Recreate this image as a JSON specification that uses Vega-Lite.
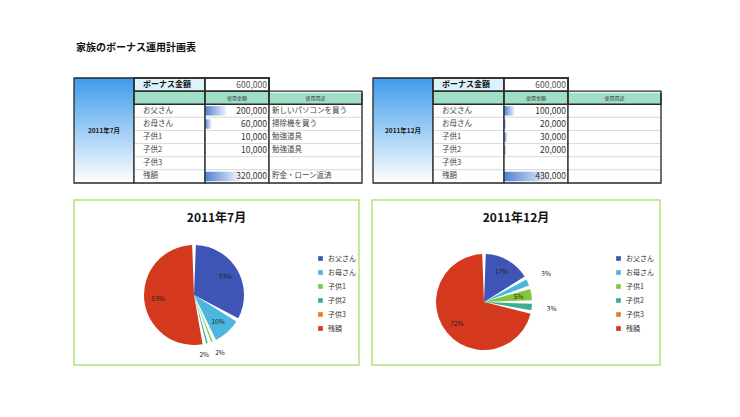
{
  "$schema": "https://vega.github.io/schema/vega-lite/v6.json",
  "padding": {"left": 73, "top": 42, "right": 5, "bottom": 5},
  "background": "white",
  "title": {"text": "家族のボーナス運用計画表", "anchor": "start", "frame": "group", "fontSize": 10, "fontWeight": "bold", "color": "#111111", "offset": 24, "dx": 2, "font": "Noto Sans CJK JP"},
  "config": {"view": {"stroke": null}, "font": "Noto Sans CJK JP", "text": {"font": "Noto Sans CJK JP"}},
  "datasets": {
    "rows": [{"row": "ボーナス金額"}, {"row": "hdr"}, {"row": "お父さん"}, {"row": "お母さん"}, {"row": "子供1"}, {"row": "子供2"}, {"row": "子供3"}, {"row": "残額"}],
    "jul": [
      {"ord": 1, "row": "お父さん", "amount": 200000, "use": "新しいパソコンを買う", "label": "33%"},
      {"ord": 2, "row": "お母さん", "amount": 60000, "use": "掃除機を買う", "label": "10%"},
      {"ord": 3, "row": "子供1", "amount": 10000, "use": "勉強道具", "label": "2%"},
      {"ord": 4, "row": "子供2", "amount": 10000, "use": "勉強道具", "label": "2%"},
      {"ord": 5, "row": "子供3", "amount": null, "use": "", "label": ""},
      {"ord": 6, "row": "残額", "amount": 320000, "use": "貯金・ローン返済", "label": "53%"}
    ],
    "dec": [
      {"ord": 1, "row": "お父さん", "amount": 100000, "use": "", "label": "17%"},
      {"ord": 2, "row": "お母さん", "amount": 20000, "use": "", "label": "3%"},
      {"ord": 3, "row": "子供1", "amount": 30000, "use": "", "label": "5%"},
      {"ord": 4, "row": "子供2", "amount": 20000, "use": "", "label": "3%"},
      {"ord": 5, "row": "子供3", "amount": null, "use": "", "label": ""},
      {"ord": 6, "row": "残額", "amount": 430000, "use": "", "label": "72%"}
    ]
  },
  "resolve": {"scale": {"color": "independent", "theta": "independent"}, "legend": {"color": "independent"}},
  "spacing": 15,
  "vconcat": [
    {
      "spacing": 8,
      "hconcat": [
        {
          "spacing": 0,
          "bounds": "flush",
          "hconcat": [
            {
              "width": 60, "height": 105,
              "data": {"values": [{"t": "2011年7月"}]},
              "layer": [
                {"mark": {"type": "rect", "stroke": "#2a2a2a", "strokeWidth": 1.3, "fill": {"gradient": "linear", "x1": 0, "y1": 0, "x2": 0, "y2": 1, "stops": [{"offset": 0, "color": "#3D9BEA"}, {"offset": 1, "color": "#FFFFFF"}]}},
                 "encoding": {"x": {"value": 0}, "x2": {"value": "width"}, "y": {"value": 0}, "y2": {"value": "height"}}},
                {"mark": {"type": "text", "fontSize": 6.5, "fontWeight": "bold", "color": "#1a1a1a", "baseline": "middle", "align": "center"},
                 "encoding": {"text": {"field": "t"}}}
              ]
            },
            {
              "width": 71, "height": 105,
              "layer": [
                {"data": {"name": "rows"}, "mark": {"type": "rect", "stroke": "#cfcfcf", "strokeWidth": 0.6},
                 "encoding": {"y": {"field": "row", "type": "nominal", "scale": {"type": "band", "domain": ["ボーナス金額", "hdr", "お父さん", "お母さん", "子供1", "子供2", "子供3", "残額"], "paddingInner": 0, "paddingOuter": 0}, "axis": null},
                   "x": {"value": 0}, "x2": {"value": "width"},
                   "fill": {"condition": [{"test": "datum.row === 'hdr'", "value": "#9FDFC6"}, {"test": "datum.row === 'ボーナス金額'", "value": "#DDF3FB"}], "value": "#FFFFFF"}}},
                {"data": {"values": [{"row": "ボーナス金額"}, {"row": "hdr"}]}, "mark": {"type": "rect", "fillOpacity": 0, "stroke": "#2a2a2a", "strokeWidth": 1.3},
                 "encoding": {"y": {"field": "row", "type": "nominal", "scale": {"type": "band"}, "axis": null}, "x": {"value": 0}, "x2": {"value": "width"}}},
                {"data": {"name": "jul"}, "mark": {"type": "text", "align": "left", "baseline": "middle", "fontSize": 7.5, "color": "#444444"},
                 "encoding": {"y": {"field": "row", "type": "nominal", "scale": {"type": "band"}, "axis": null}, "x": {"value": 9}, "text": {"field": "row"}}},
                {"data": {"values": [{"row": "ボーナス金額"}]}, "mark": {"type": "text", "align": "left", "baseline": "middle", "fontSize": 8, "fontWeight": "bold", "color": "#111111"},
                 "encoding": {"y": {"field": "row", "type": "nominal", "scale": {"type": "band"}, "axis": null}, "x": {"value": 9}, "text": {"field": "row"}}},
                {"data": {"values": [{}]}, "mark": {"type": "rect", "fillOpacity": 0, "stroke": "#2a2a2a", "strokeWidth": 1.3},
                 "encoding": {"x": {"value": 0}, "x2": {"value": "width"}, "y": {"value": 0}, "y2": {"value": "height"}}}
              ]
            },
            {
              "width": 64, "height": 105,
              "layer": [
                {"data": {"name": "rows"}, "mark": {"type": "rect", "stroke": "#cfcfcf", "strokeWidth": 0.6},
                 "encoding": {"y": {"field": "row", "type": "nominal", "scale": {"type": "band", "domain": ["ボーナス金額", "hdr", "お父さん", "お母さん", "子供1", "子供2", "子供3", "残額"], "paddingInner": 0, "paddingOuter": 0}, "axis": null},
                   "x": {"value": 0}, "x2": {"value": "width"},
                   "fill": {"condition": [{"test": "datum.row === 'hdr'", "value": "#9FDFC6"}], "value": "#FFFFFF"}}},
                {"data": {"name": "jul"}, "transform": [{"filter": "datum.amount > 0"}],
                 "mark": {"type": "bar", "height": {"band": 0.72}, "fill": {"gradient": "linear", "x1": 0, "y1": 0, "x2": 1, "y2": 0, "stops": [{"offset": 0, "color": "#4F82D1"}, {"offset": 1, "color": "#EEF3FB"}]}},
                 "encoding": {"y": {"field": "row", "type": "nominal", "scale": {"type": "band"}, "axis": null},
                   "x": {"field": "amount", "type": "quantitative", "scale": {"domain": [0, 600000], "nice": false}, "axis": null}}},
                {"data": {"values": [{"row": "ボーナス金額"}, {"row": "hdr"}]}, "mark": {"type": "rect", "fillOpacity": 0, "stroke": "#2a2a2a", "strokeWidth": 1.3},
                 "encoding": {"y": {"field": "row", "type": "nominal", "scale": {"type": "band"}, "axis": null}, "x": {"value": 0}, "x2": {"value": "width"}}},
                {"data": {"name": "jul"}, "transform": [{"filter": "isValid(datum.amount)"}],
                 "mark": {"type": "text", "align": "right", "baseline": "middle", "fontSize": 8.5, "color": "#333333", "dx": -2},
                 "encoding": {"y": {"field": "row", "type": "nominal", "scale": {"type": "band"}, "axis": null}, "x": {"datum": 600000, "type": "quantitative"}, "text": {"field": "amount", "type": "quantitative", "format": ","}}},
                {"data": {"values": [{"row": "ボーナス金額", "amount": 600000}]},
                 "mark": {"type": "text", "align": "right", "baseline": "middle", "fontSize": 8.5, "color": "#555555", "dx": -2},
                 "encoding": {"y": {"field": "row", "type": "nominal", "scale": {"type": "band"}, "axis": null}, "x": {"datum": 600000, "type": "quantitative"}, "text": {"field": "amount", "type": "quantitative", "format": ","}}},
                {"data": {"values": [{"row": "hdr", "t": "使用金額"}]},
                 "mark": {"type": "text", "align": "center", "baseline": "middle", "fontSize": 5, "color": "#333333"},
                 "encoding": {"y": {"field": "row", "type": "nominal", "scale": {"type": "band"}, "axis": null}, "x": {"datum": 300000, "type": "quantitative"}, "text": {"field": "t"}}},
                {"data": {"values": [{}]}, "mark": {"type": "rect", "fillOpacity": 0, "stroke": "#2a2a2a", "strokeWidth": 1.3},
                 "encoding": {"x": {"value": 0}, "x2": {"value": "width"}, "y": {"value": 0}, "y2": {"value": "height"}}}
              ]
            },
            {
              "width": 93, "height": 105,
              "layer": [
                {"data": {"name": "rows"}, "transform": [{"filter": "datum.row !== 'ボーナス金額'"}], "mark": {"type": "rect", "stroke": "#cfcfcf", "strokeWidth": 0.6},
                 "encoding": {"y": {"field": "row", "type": "nominal", "scale": {"type": "band", "domain": ["ボーナス金額", "hdr", "お父さん", "お母さん", "子供1", "子供2", "子供3", "残額"], "paddingInner": 0, "paddingOuter": 0}, "axis": null},
                   "x": {"value": 0}, "x2": {"value": "width"},
                   "fill": {"condition": [{"test": "datum.row === 'hdr'", "value": "#9FDFC6"}], "value": "#FFFFFF"}}},
                {"data": {"values": [{}]}, "mark": {"type": "rect", "fillOpacity": 0, "stroke": "#2a2a2a", "strokeWidth": 1.3},
                 "encoding": {"x": {"value": 0}, "x2": {"value": "width"}, "y": {"value": 0}, "y2": {"value": "height"}}},
                {"data": {"values": [{"row": "ボーナス金額"}]}, "mark": {"type": "rect", "fill": "#FFFFFF", "stroke": "#FFFFFF", "strokeWidth": 3},
                 "encoding": {"y": {"field": "row", "type": "nominal", "scale": {"type": "band"}, "axis": null}, "x": {"value": 2.5}, "x2": {"value": "width"}}},
                {"data": {"values": [{"row": "hdr"}]}, "mark": {"type": "rect", "fillOpacity": 0, "stroke": "#2a2a2a", "strokeWidth": 1.3},
                 "encoding": {"y": {"field": "row", "type": "nominal", "scale": {"type": "band"}, "axis": null}, "x": {"value": 0}, "x2": {"value": "width"}}},
                {"data": {"name": "jul"}, "mark": {"type": "text", "align": "left", "baseline": "middle", "fontSize": 7.5, "color": "#444444"},
                 "encoding": {"y": {"field": "row", "type": "nominal", "scale": {"type": "band"}, "axis": null}, "x": {"value": 3}, "text": {"field": "use"}}},
                {"data": {"values": [{"row": "hdr", "t": "使用用途"}]},
                 "mark": {"type": "text", "align": "center", "baseline": "middle", "fontSize": 5, "color": "#333333"},
                 "encoding": {"y": {"field": "row", "type": "nominal", "scale": {"type": "band"}, "axis": null}, "text": {"field": "t"}}}
              ]
            }
          ]
        },
        {
          "spacing": 0,
          "bounds": "flush",
          "hconcat": [
            {
              "width": 60, "height": 105,
              "data": {"values": [{"t": "2011年12月"}]},
              "layer": [
                {"mark": {"type": "rect", "stroke": "#2a2a2a", "strokeWidth": 1.3, "fill": {"gradient": "linear", "x1": 0, "y1": 0, "x2": 0, "y2": 1, "stops": [{"offset": 0, "color": "#3D9BEA"}, {"offset": 1, "color": "#FFFFFF"}]}},
                 "encoding": {"x": {"value": 0}, "x2": {"value": "width"}, "y": {"value": 0}, "y2": {"value": "height"}}},
                {"mark": {"type": "text", "fontSize": 6.5, "fontWeight": "bold", "color": "#1a1a1a", "baseline": "middle", "align": "center"},
                 "encoding": {"text": {"field": "t"}}}
              ]
            },
            {
              "width": 71, "height": 105,
              "layer": [
                {"data": {"name": "rows"}, "mark": {"type": "rect", "stroke": "#cfcfcf", "strokeWidth": 0.6},
                 "encoding": {"y": {"field": "row", "type": "nominal", "scale": {"type": "band", "domain": ["ボーナス金額", "hdr", "お父さん", "お母さん", "子供1", "子供2", "子供3", "残額"], "paddingInner": 0, "paddingOuter": 0}, "axis": null},
                   "x": {"value": 0}, "x2": {"value": "width"},
                   "fill": {"condition": [{"test": "datum.row === 'hdr'", "value": "#9FDFC6"}, {"test": "datum.row === 'ボーナス金額'", "value": "#DDF3FB"}], "value": "#FFFFFF"}}},
                {"data": {"values": [{"row": "ボーナス金額"}, {"row": "hdr"}]}, "mark": {"type": "rect", "fillOpacity": 0, "stroke": "#2a2a2a", "strokeWidth": 1.3},
                 "encoding": {"y": {"field": "row", "type": "nominal", "scale": {"type": "band"}, "axis": null}, "x": {"value": 0}, "x2": {"value": "width"}}},
                {"data": {"name": "dec"}, "mark": {"type": "text", "align": "left", "baseline": "middle", "fontSize": 7.5, "color": "#444444"},
                 "encoding": {"y": {"field": "row", "type": "nominal", "scale": {"type": "band"}, "axis": null}, "x": {"value": 9}, "text": {"field": "row"}}},
                {"data": {"values": [{"row": "ボーナス金額"}]}, "mark": {"type": "text", "align": "left", "baseline": "middle", "fontSize": 8, "fontWeight": "bold", "color": "#111111"},
                 "encoding": {"y": {"field": "row", "type": "nominal", "scale": {"type": "band"}, "axis": null}, "x": {"value": 9}, "text": {"field": "row"}}},
                {"data": {"values": [{}]}, "mark": {"type": "rect", "fillOpacity": 0, "stroke": "#2a2a2a", "strokeWidth": 1.3},
                 "encoding": {"x": {"value": 0}, "x2": {"value": "width"}, "y": {"value": 0}, "y2": {"value": "height"}}}
              ]
            },
            {
              "width": 64, "height": 105,
              "layer": [
                {"data": {"name": "rows"}, "mark": {"type": "rect", "stroke": "#cfcfcf", "strokeWidth": 0.6},
                 "encoding": {"y": {"field": "row", "type": "nominal", "scale": {"type": "band", "domain": ["ボーナス金額", "hdr", "お父さん", "お母さん", "子供1", "子供2", "子供3", "残額"], "paddingInner": 0, "paddingOuter": 0}, "axis": null},
                   "x": {"value": 0}, "x2": {"value": "width"},
                   "fill": {"condition": [{"test": "datum.row === 'hdr'", "value": "#9FDFC6"}], "value": "#FFFFFF"}}},
                {"data": {"name": "dec"}, "transform": [{"filter": "datum.amount > 0"}],
                 "mark": {"type": "bar", "height": {"band": 0.72}, "fill": {"gradient": "linear", "x1": 0, "y1": 0, "x2": 1, "y2": 0, "stops": [{"offset": 0, "color": "#4F82D1"}, {"offset": 1, "color": "#EEF3FB"}]}},
                 "encoding": {"y": {"field": "row", "type": "nominal", "scale": {"type": "band"}, "axis": null},
                   "x": {"field": "amount", "type": "quantitative", "scale": {"domain": [0, 600000], "nice": false}, "axis": null}}},
                {"data": {"values": [{"row": "ボーナス金額"}, {"row": "hdr"}]}, "mark": {"type": "rect", "fillOpacity": 0, "stroke": "#2a2a2a", "strokeWidth": 1.3},
                 "encoding": {"y": {"field": "row", "type": "nominal", "scale": {"type": "band"}, "axis": null}, "x": {"value": 0}, "x2": {"value": "width"}}},
                {"data": {"name": "dec"}, "transform": [{"filter": "isValid(datum.amount)"}],
                 "mark": {"type": "text", "align": "right", "baseline": "middle", "fontSize": 8.5, "color": "#333333", "dx": -2},
                 "encoding": {"y": {"field": "row", "type": "nominal", "scale": {"type": "band"}, "axis": null}, "x": {"datum": 600000, "type": "quantitative"}, "text": {"field": "amount", "type": "quantitative", "format": ","}}},
                {"data": {"values": [{"row": "ボーナス金額", "amount": 600000}]},
                 "mark": {"type": "text", "align": "right", "baseline": "middle", "fontSize": 8.5, "color": "#555555", "dx": -2},
                 "encoding": {"y": {"field": "row", "type": "nominal", "scale": {"type": "band"}, "axis": null}, "x": {"datum": 600000, "type": "quantitative"}, "text": {"field": "amount", "type": "quantitative", "format": ","}}},
                {"data": {"values": [{"row": "hdr", "t": "使用金額"}]},
                 "mark": {"type": "text", "align": "center", "baseline": "middle", "fontSize": 5, "color": "#333333"},
                 "encoding": {"y": {"field": "row", "type": "nominal", "scale": {"type": "band"}, "axis": null}, "x": {"datum": 300000, "type": "quantitative"}, "text": {"field": "t"}}},
                {"data": {"values": [{}]}, "mark": {"type": "rect", "fillOpacity": 0, "stroke": "#2a2a2a", "strokeWidth": 1.3},
                 "encoding": {"x": {"value": 0}, "x2": {"value": "width"}, "y": {"value": 0}, "y2": {"value": "height"}}}
              ]
            },
            {
              "width": 93, "height": 105,
              "layer": [
                {"data": {"name": "rows"}, "transform": [{"filter": "datum.row !== 'ボーナス金額'"}], "mark": {"type": "rect", "stroke": "#cfcfcf", "strokeWidth": 0.6},
                 "encoding": {"y": {"field": "row", "type": "nominal", "scale": {"type": "band", "domain": ["ボーナス金額", "hdr", "お父さん", "お母さん", "子供1", "子供2", "子供3", "残額"], "paddingInner": 0, "paddingOuter": 0}, "axis": null},
                   "x": {"value": 0}, "x2": {"value": "width"},
                   "fill": {"condition": [{"test": "datum.row === 'hdr'", "value": "#9FDFC6"}], "value": "#FFFFFF"}}},
                {"data": {"values": [{}]}, "mark": {"type": "rect", "fillOpacity": 0, "stroke": "#2a2a2a", "strokeWidth": 1.3},
                 "encoding": {"x": {"value": 0}, "x2": {"value": "width"}, "y": {"value": 0}, "y2": {"value": "height"}}},
                {"data": {"values": [{"row": "ボーナス金額"}]}, "mark": {"type": "rect", "fill": "#FFFFFF", "stroke": "#FFFFFF", "strokeWidth": 3},
                 "encoding": {"y": {"field": "row", "type": "nominal", "scale": {"type": "band"}, "axis": null}, "x": {"value": 2.5}, "x2": {"value": "width"}}},
                {"data": {"values": [{"row": "hdr"}]}, "mark": {"type": "rect", "fillOpacity": 0, "stroke": "#2a2a2a", "strokeWidth": 1.3},
                 "encoding": {"y": {"field": "row", "type": "nominal", "scale": {"type": "band"}, "axis": null}, "x": {"value": 0}, "x2": {"value": "width"}}},
                {"data": {"values": [{"row": "hdr", "t": "使用用途"}]},
                 "mark": {"type": "text", "align": "center", "baseline": "middle", "fontSize": 5, "color": "#333333"},
                 "encoding": {"y": {"field": "row", "type": "nominal", "scale": {"type": "band"}, "axis": null}, "text": {"field": "t"}}}
              ]
            }
          ]
        }
      ]
    },
    {
      "spacing": 11,
      "resolve": {"scale": {"color": "independent", "theta": "independent"}, "legend": {"color": "independent"}},
      "hconcat": [
        {
          "width": 285, "height": 165,
          "view": {"stroke": "#B2E37A", "strokeWidth": 1.5},
          "title": {"text": "2011年7月", "offset": -25, "fontSize": 12, "fontWeight": "bold", "color": "#111111", "anchor": "middle", "font": "Noto Sans CJK JP"},
          "data": {"name": "jul"},
          "encoding": {
            "theta": {"field": "amount", "type": "quantitative", "stack": true},
            "order": {"field": "ord", "type": "quantitative"},
            "x": {"value": 120},
            "y": {"value": 95}
          },
          "layer": [
            {"mark": {"type": "arc", "outerRadius": 50, "padAngle": 0.075},
             "encoding": {"color": {"field": "row", "type": "nominal",
               "scale": {"domain": ["お父さん", "お母さん", "子供1", "子供2", "子供3", "残額"], "range": ["#3F55B5", "#4BB6E0", "#82C83A", "#3DAE96", "#F07A24", "#D4391D"]},
               "legend": {"title": null, "orient": "none", "legendX": 243, "legendY": 55, "symbolType": "square", "symbolSize": 22, "symbolStrokeWidth": 0, "labelFontSize": 7, "labelColor": "#333333", "labelFont": "Noto Sans CJK JP", "rowPadding": 6}}}},
            {"mark": {"type": "text", "radius": 36, "fontSize": 6.5, "color": "#222222"},
             "encoding": {"text": {"condition": {"test": "datum.amount >= 25000", "field": "label"}, "value": ""}}},
            {"mark": {"type": "text", "radius": 62, "fontSize": 6.5, "color": "#222222", "align": "left", "dx": -1},
             "encoding": {"text": {"condition": {"test": "datum.amount < 25000 && datum.ord === 3", "field": "label"}, "value": ""}}},
            {"mark": {"type": "text", "radius": 62, "fontSize": 6.5, "color": "#222222", "align": "right", "dx": -1},
             "encoding": {"text": {"condition": {"test": "datum.amount < 25000 && datum.ord === 4", "field": "label"}, "value": ""}}}
          ]
        },
        {
          "width": 288, "height": 165,
          "view": {"stroke": "#B2E37A", "strokeWidth": 1.5},
          "title": {"text": "2011年12月", "offset": -25, "fontSize": 12, "fontWeight": "bold", "color": "#111111", "anchor": "middle", "font": "Noto Sans CJK JP"},
          "data": {"name": "dec"},
          "encoding": {
            "theta": {"field": "amount", "type": "quantitative", "stack": true},
            "order": {"field": "ord", "type": "quantitative"},
            "x": {"value": 112},
            "y": {"value": 102}
          },
          "layer": [
            {"mark": {"type": "arc", "outerRadius": 48, "padAngle": 0.075},
             "encoding": {"color": {"field": "row", "type": "nominal",
               "scale": {"domain": ["お父さん", "お母さん", "子供1", "子供2", "子供3", "残額"], "range": ["#3F55B5", "#4BB6E0", "#82C83A", "#3DAE96", "#F07A24", "#D4391D"]},
               "legend": {"title": null, "orient": "none", "legendX": 243, "legendY": 55, "symbolType": "square", "symbolSize": 22, "symbolStrokeWidth": 0, "labelFontSize": 7, "labelColor": "#333333", "labelFont": "Noto Sans CJK JP", "rowPadding": 6}}}},
            {"mark": {"type": "text", "radius": 35, "fontSize": 6.5, "color": "#222222"},
             "encoding": {"text": {"condition": {"test": "datum.amount >= 25000", "field": "label"}, "value": ""}}},
            {"mark": {"type": "text", "radius": 68, "fontSize": 6.5, "color": "#222222"},
             "encoding": {"text": {"condition": {"test": "datum.amount < 25000", "field": "label"}, "value": ""}}}
          ]
        }
      ]
    }
  ]
}
